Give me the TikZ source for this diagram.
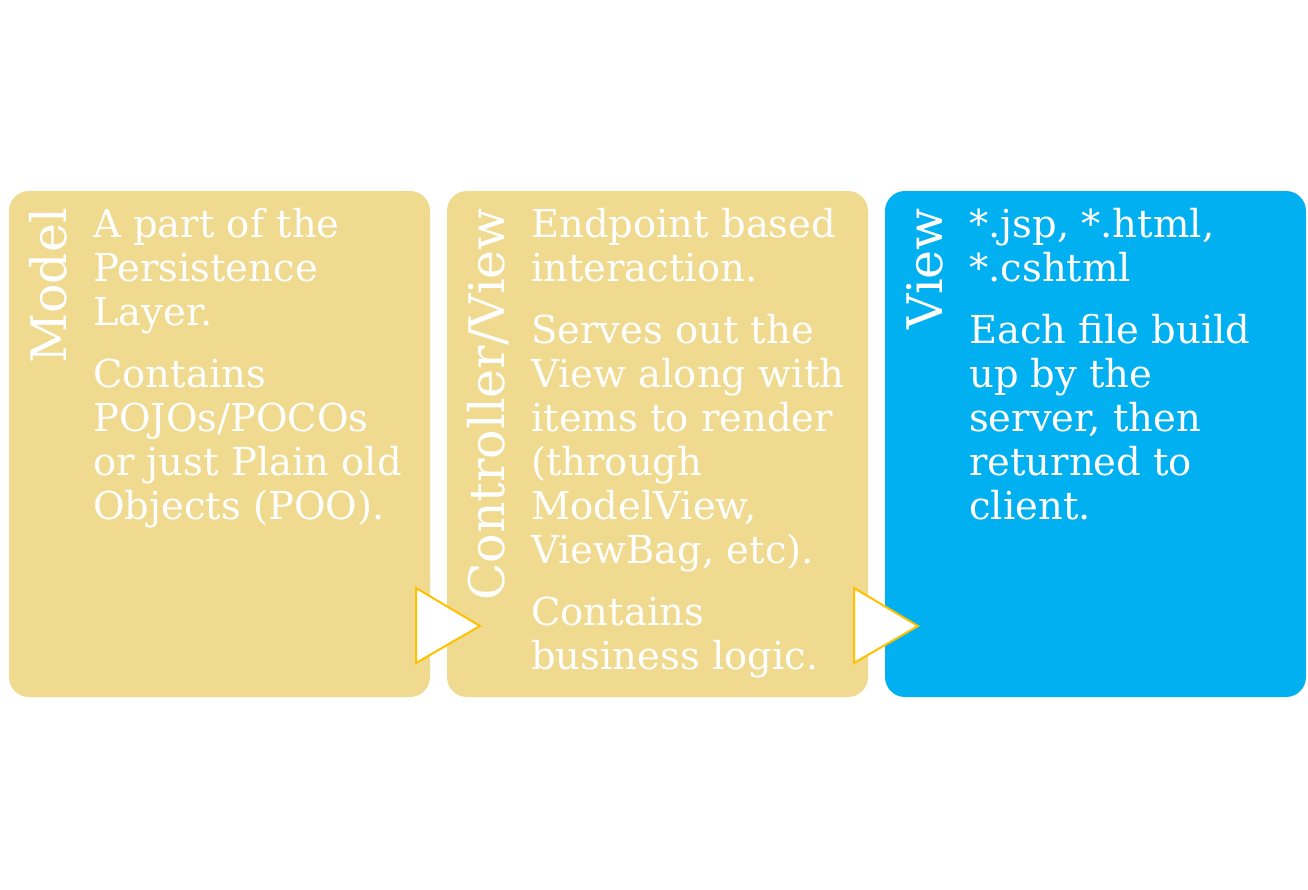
\documentclass[tikz,border=0pt]{standalone}
\usepackage{fontspec}
\setmainfont{DejaVu Serif}
\definecolor{sand}{HTML}{EFDA8F}
\definecolor{sky}{HTML}{00B0F0}
\definecolor{amber}{HTML}{FFC000}
% a block of lines whose baseline is that of its first line
\newcommand{\linesblock}[1]{\begin{tabular}[t]{@{}l@{}}#1\end{tabular}}
\begin{document}
\begin{tikzpicture}[x=1pt,y=-1pt,
  panel/.style={rounded corners=20pt,draw=none},
  title/.style={rotate=90,anchor=base east,inner sep=0pt,text=white,
    font={\fontsize{49}{54}\selectfont}},
  body/.style={anchor=base west,inner sep=0pt,text=white,
    font={\fontsize{38.5}{44}\selectfont}},
  chevron/.style={draw=amber,fill=white,line width=2pt,line join=miter}]
\useasboundingbox (0,0) rectangle (1308,889);
% three panels
\fill[panel,sand] (9,191) rectangle (430,697);
\fill[panel,sand] (447,191) rectangle (868,697);
\fill[panel,sky] (885,191) rectangle (1306,697);
% vertical titles
\node[title] (tmodel) at (66,208) {Model};
\node[title] (tctrl) at (504,208) {Controller/View};
\node[title] (tview) at (942,208) {View};
% panel texts
\node[body] (bmodel) at (93,237) {\linesblock{A part of the\\Persistence\\Layer.\\[18pt]Contains\\POJOs/POCOs\\or just Plain old\\Objects (POO).}};
\node[body] (bctrl) at (531,237) {\linesblock{Endpoint based\\interaction.\\[18pt]Serves out the\\View along with\\items to render\\(through\\ModelView,\\ViewBag, etc).\\[18pt]Contains\\business logic.}};
\node[body] (bview) at (969,237) {\linesblock{*.jsp, *.html,\\\relax*.cshtml\\[18pt]Each file build\\up by the\\server, then\\returned to\\client.}};
% flow chevrons between panels
\draw[chevron] (416,588) -- (480,626) -- (416,663) -- cycle;
\draw[chevron] (854,588) -- (918,626) -- (854,663) -- cycle;
\end{tikzpicture}
\end{document}
